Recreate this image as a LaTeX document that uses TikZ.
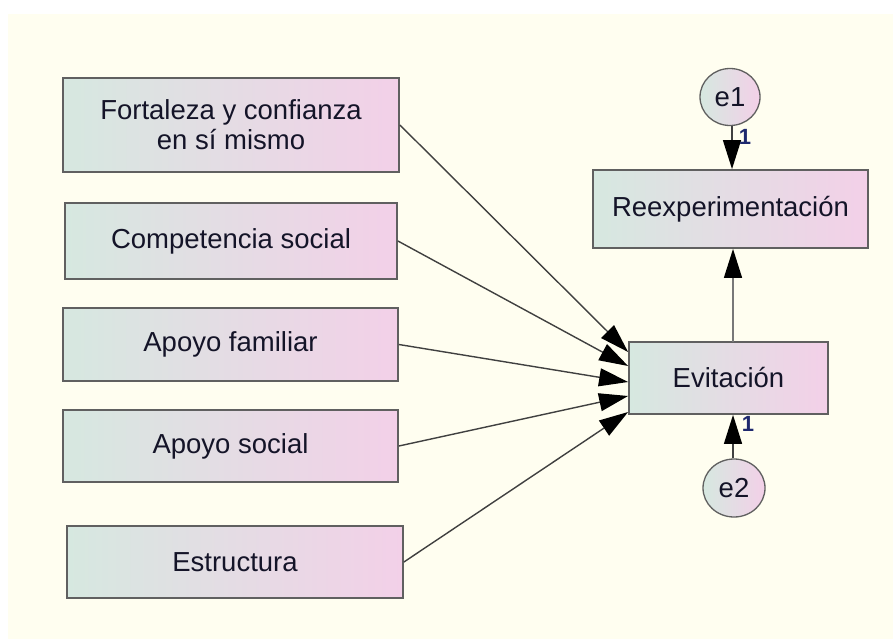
\documentclass[tikz,border=0pt]{standalone}
\usepackage{fontspec}
\setmainfont{Liberation Sans}
\usetikzlibrary{arrows.meta,shapes.geometric}
\definecolor{bgcream}{RGB}{255,254,240}
\definecolor{gleft}{RGB}{214,232,224}
\definecolor{gright}{RGB}{243,208,232}
\definecolor{bordergray}{RGB}{96,96,96}
\definecolor{linegray}{RGB}{64,64,64}
\definecolor{vgray}{RGB}{120,120,120}
\definecolor{txt}{RGB}{20,20,40}
\definecolor{onecol}{RGB}{30,40,110}
\tikzset{
  varbox/.style={draw=bordergray, line width=1.8pt, left color=gleft, right color=gright,
    minimum width=#1, inner sep=0pt, text=txt, font=\fontsize{27.5}{30}\selectfont, align=center},
  errc/.style={ellipse, draw=bordergray, line width=1.3pt, left color=gleft, right color=gright,
    inner sep=0pt, text=txt, font=\fontsize{27.5}{30}\selectfont},
  arr/.style={draw=linegray, line width=1.4pt, -{Triangle[length=29pt,width=18pt,fill=black,color=black]}},
  onelab/.style={text=onecol, font=\bfseries\fontsize{22}{24}\selectfont, inner sep=0pt}
}
\begin{document}
\begin{tikzpicture}[x=1pt,y=-1pt]
\useasboundingbox (0,0) rectangle (893,639);
\fill[white] (0,0) rectangle (893,639);
\fill[bgcream] (8,14) rectangle (893,639);

\node[varbox=336pt, minimum height=94pt] (b1) at (231,125) {Fortaleza y confianza\\en sí mismo};
\node[varbox=332pt, minimum height=76pt] (b2) at (231,241) {Competencia social};
\node[varbox=335pt, minimum height=73pt] (b3) at (230.5,344.5) {Apoyo familiar};
\node[varbox=335pt, minimum height=72pt] (b4) at (230.5,446) {Apoyo social};
\node[varbox=336pt, minimum height=72pt] (b5) at (235,562) {Estructura};

\node[varbox=199pt, minimum height=72pt] (ev) at (728.5,378) {Evitación};
\node[varbox=275pt, minimum height=78pt] (rx) at (730.5,209) {Reexperimentación};

\node[errc, minimum width=60pt, minimum height=57pt] (e1) at (730,97) {e1};
\node[errc, minimum width=62pt, minimum height=58pt] (e2) at (734,488) {e2};

\draw[arr] (b1.east) -- ([yshift=26pt]ev.west);
\draw[arr] (b2.east) -- ([yshift=12pt]ev.west);
\draw[arr] (b3.east) -- ([yshift=-4pt]ev.west);
\draw[arr] (b4.east) -- ([yshift=-18pt]ev.west);
\draw[arr] (b5.east) -- ([yshift=-34pt]ev.west);

\coordinate (evtop) at (733,342);
\draw[arr, draw=vgray] (evtop) -- (evtop |- rx.south);
\draw[arr] (e1.south -| 732,0) -- (rx.north -| 732,0);
\draw[arr] (e2.north -| 733,0) -- (ev.south -| 733,0);

\node[onelab] (one1) at (745,137) {1};
\node[onelab] (one2) at (748,424) {1};
\end{tikzpicture}
\end{document}
